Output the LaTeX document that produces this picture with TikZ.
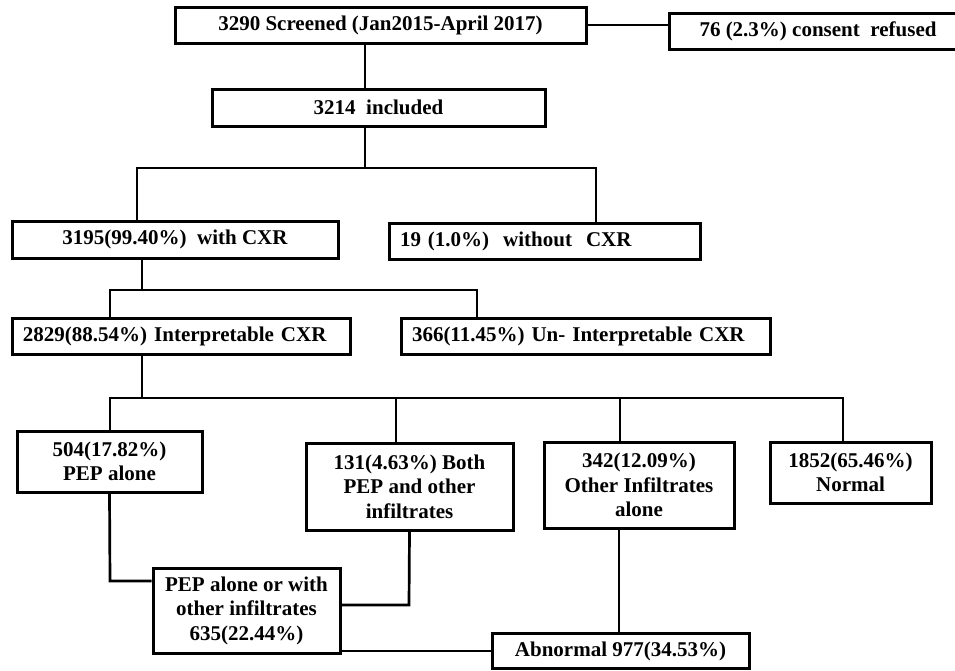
\documentclass[tikz,border=0pt]{standalone}
\usepackage{fontspec}
\setmainfont{Liberation Serif}
\usepackage{tikz}
\usetikzlibrary{positioning}

\begin{document}
\begin{tikzpicture}[
    x=1pt, y=-1pt,
    box_style/.style={draw=black, line width=3pt, inner sep=0pt, align=center,
        font=\fontsize{21}{24.5}\selectfont\bfseries},
    left_box/.style={box_style, align=left, inner xsep=11pt},
    line_style/.style={black, line width=2.7pt}
]
    \useasboundingbox[fill=white] (0,0) rectangle (955,670);

    % Boxes
    \node[box_style, minimum width=411pt, minimum height=36pt] (scr) at (380.5,25) {3290 Screened (Jan2015-April 2017)};
    \node[box_style, minimum width=298pt, minimum height=36pt] (ref) at (818,31) {76 (2.3\%) consent\ \ refused};
    \node[box_style, minimum width=333pt, minimum height=37pt] (inc) at (378.5,107.5) {3214\ \ included};
    \node[box_style, minimum width=326pt, minimum height=37pt] (cxr) at (175,239.5) {3195(99.40\%)\ \ with CXR};
    \node[left_box, text width=289pt, minimum height=36pt] (nocxr) at (544.5,241) {19 (1.0\%)\ \ without\ \ CXR};
    \node[left_box, text width=316pt, minimum height=36pt] (interp) at (181,336) {2829(88.54\%) Interpretable CXR};
    \node[left_box, text width=347pt, minimum height=36pt] (uninterp) at (585.5,336) {366(11.45\%) Un- Interpretable CXR};
    \node[box_style, minimum width=185pt, minimum height=61pt] (pep) at (109.5,461.5) {504(17.82\%)\\PEP alone};
    \node[box_style, minimum width=207pt, minimum height=87pt] (both) at (409.5,486.5) {131(4.63\%) Both\\PEP and other\\infiltrates};
    \node[box_style, minimum width=190pt, minimum height=86pt] (oth) at (639,485) {342(12.09\%)\\Other Infiltrates\\alone};
    \node[box_style, minimum width=161pt, minimum height=61pt] (norm) at (850.5,472.5) {1852(65.46\%)\\Normal};
    \node[box_style, minimum width=187pt, minimum height=85pt] (pepany) at (246.5,610.5) {PEP alone or with\\other infiltrates\\635(22.44\%)};
    \node[box_style, minimum width=257pt, minimum height=35pt] (abn) at (620.5,651) {Abnormal 977(34.53\%)};

    % Junctions
    \coordinate (j0) at (365,0);
    \coordinate (b1) at (365,168);
    \coordinate (b1l) at (137,168);
    \coordinate (b1r) at (596,168);
    \coordinate (b2) at (142,290);
    \coordinate (b2l) at (110,290);
    \coordinate (b2r) at (477,290);
    \coordinate (b3) at (142,398);
    \coordinate (b3a) at (110,398);
    \coordinate (b3b) at (396,398);
    \coordinate (b3c) at (620,398);
    \coordinate (b3d) at (843,398);
    \coordinate (k1) at (110,581);
    \coordinate (k2) at (409,605);
    \coordinate (k3) at (619,0);

    % Connectors
    \draw[line_style] (scr.east) -- (scr.east -| ref.west);
    \draw[line_style] (j0 |- scr.south) -- (j0 |- inc.north);
    \draw[line_style] (b1 |- inc.south) -- (b1);
    \draw[line_style] (b1l |- cxr.north) -- (b1l) -- (b1r) -- (b1r |- nocxr.north);
    \draw[line_style] (b2 |- cxr.south) -- (b2);
    \draw[line_style] (b2l |- interp.north) -- (b2l) -- (b2r) -- (b2r |- uninterp.north);
    \draw[line_style] (b3 |- interp.south) -- (b3);
    \draw[line_style] (b3a |- pep.north) -- (b3a) -- (b3d) -- (b3d |- norm.north);
    \draw[line_style] (b3b) -- (b3b |- both.north);
    \draw[line_style] (b3c) -- (b3c |- oth.north);
    \draw[line_style] (pep.south) -- (k1) -- (k1 -| pepany.west);
    \draw[line_style] (both.south) -- (k2) -- (k2 -| pepany.east);
    \draw[line_style] (k3 |- oth.south) -- (k3 |- abn.north);
    \draw[line_style] (pepany.east |- abn.west) -- (abn.west);
\end{tikzpicture}
\end{document}
